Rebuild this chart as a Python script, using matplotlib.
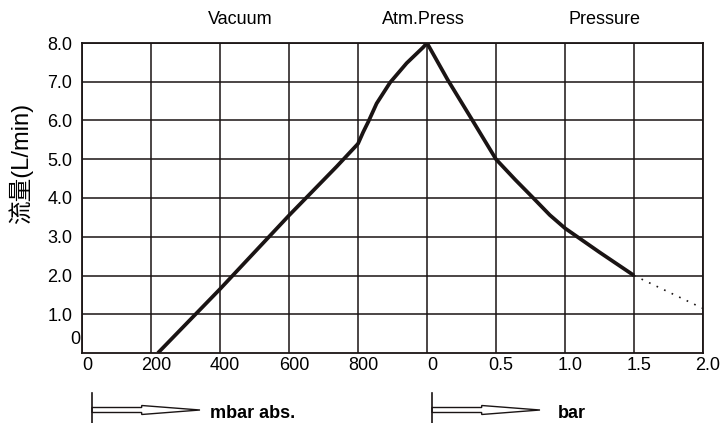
import numpy as np
import matplotlib.pyplot as plt
from matplotlib.patches import Polygon
from matplotlib.transforms import ScaledTranslation

plt.rcParams['font.family'] = ['Liberation Sans', 'Noto Sans CJK SC', 'DejaVu Sans']

# vacuum side (mbar abs) and pressure side (bar)
vac_mbar = [220, 400, 600, 738, 800, 815, 830, 854, 893, 941, 989, 1000]
vac_flow = [0.0, 1.65, 3.55, 4.81, 5.4, 5.7, 5.97, 6.44, 6.98, 7.48, 7.89, 8.0]
prs_bar = [0.0, 0.15, 0.33, 0.5, 0.64, 0.77, 0.89, 1.0, 1.25, 1.5]
prs_flow = [8.0, 7.05, 6.0, 5.0, 4.47, 4.0, 3.56, 3.22, 2.6, 2.0]
ext_bar = [1.5, 2.0]
ext_flow = [2.0, 1.15]

xtick_labels = ["0", "200", "400", "600", "800", "0", "0.5", "1.0", "1.5", "2.0"]
ytick_vals = [1, 2, 3, 4, 5, 6, 7, 8]


def mbar_to_u(v):
    return np.array(v) / 200.0


def bar_to_u(v):
    return 5 + np.array(v) / 0.5


W, H = 720, 423
ink = "#1a1414"
fig = plt.figure(figsize=(7.2, 4.23), dpi=100)
ax = fig.add_axes([82 / W, 1 - 353 / H, 621 / W, 310 / H])

xs = np.concatenate([mbar_to_u(vac_mbar), bar_to_u(prs_bar)[1:]])
ys = np.concatenate([vac_flow, prs_flow[1:]])
ax.plot(xs, ys, color=ink, lw=2.7, solid_joinstyle="round", solid_capstyle="butt", zorder=3)
ax.plot(bar_to_u(ext_bar), ext_flow, color=ink, lw=1.2, ls=(0, (1, 4)), zorder=3)

ax.set_xlim(0, 9)
ax.set_ylim(0, 8)
ax.set_xticks(np.arange(10))
ax.set_xticklabels(xtick_labels, fontsize=13)
ax.set_yticks(ytick_vals)
ax.set_yticklabels([f"{v:.1f}" for v in ytick_vals], fontsize=13)
ax.tick_params(axis="x", length=0, pad=3)
ax.tick_params(axis="y", length=0, pad=7)
off = ScaledTranslation(5 / 100, 0, fig.dpi_scale_trans)
for lab in ax.get_xticklabels():
    lab.set_transform(lab.get_transform() + off)
ax.grid(True, color=ink, lw=1.1)
for s in ax.spines.values():
    s.set_color(ink)
    s.set_linewidth(1.3)
ax.text(-0.02, 0.34, "0", ha="right", va="center", fontsize=13)

fig.text(21 / W, 1 - 163 / H, "流量(L/min)", rotation=90, ha="center", va="center", fontsize=17)

fig.text(240 / W, 1 - 20 / H, "Vacuum", ha="center", va="center", fontsize=13)
fig.text(423 / W, 1 - 20 / H, "Atm.Press", ha="center", va="center", fontsize=13)
fig.text(605 / W, 1 - 20 / H, "Pressure", ha="center", va="center", fontsize=13)


def draw_arrow(x0, x1):
    # hollow double-line arrow with a start bar
    fig.add_artist(plt.Line2D([x0 / W, x0 / W], [1 - 393 / H, 0], color=ink, lw=1.2))
    xm = x0 + (x1 - x0) * 0.46
    pts = [(x0, 407.5), (xm, 407.5), (xm, 405.5), (x1, 410), (xm, 414.5), (xm, 412.5), (x0, 412.5)]
    pts = [(px / W, 1 - py / H) for px, py in pts]
    fig.add_artist(Polygon(pts, closed=True, fill=False, edgecolor=ink, lw=1.0))


draw_arrow(92, 200)
draw_arrow(432, 540)
fig.text(210 / W, 1 - 413 / H, "mbar abs.", ha="left", va="center", fontsize=13, fontweight="bold")
fig.text(558 / W, 1 - 413 / H, "bar", ha="left", va="center", fontsize=13, fontweight="bold")

fig.savefig("out.png", dpi=100)
